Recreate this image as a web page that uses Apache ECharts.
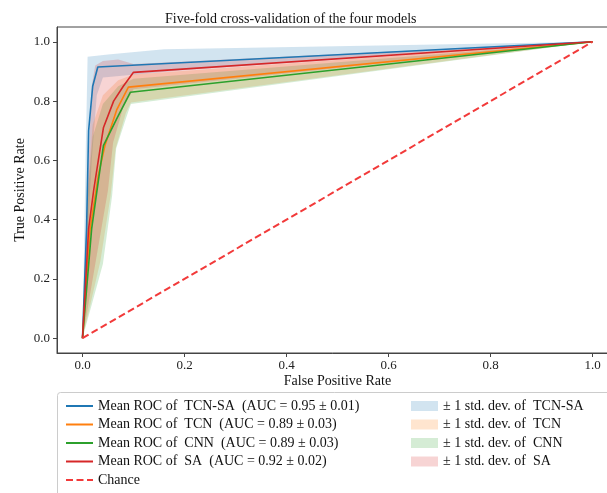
<!DOCTYPE html>
<html>
<head>
<meta charset="utf-8">
<script src="https://cdn.jsdelivr.net/npm/echarts@6/dist/echarts.min.js"></script>
<style>
  html, body { margin: 0; padding: 0; background: #fff; }
  #roc { width: 607px; height: 493px; }
</style>
</head>
<body>
<div id="roc"></div>
<script>
// models and AUC values shown in the legend
const models = ['TCN-SA', 'TCN', 'CNN', 'SA']
const aucMean = ['0.95', '0.89', '0.89', '0.92']
const aucStd = ['0.01', '0.03', '0.03', '0.02']
const tickValues = [0, 0.2, 0.4, 0.6, 0.8, 1.0]

// mean ROC curves, [fpr, tpr]
const tcnsaMean = [[0, 0], [0.008, 0.37], [0.012, 0.70], [0.02, 0.85], [0.03, 0.915], [1, 1]]
const tcnMean = [[0, 0], [0.015, 0.37], [0.031, 0.55], [0.044, 0.65], [0.067, 0.77], [0.09, 0.847], [1, 1]]
const cnnMean = [[0, 0], [0.018, 0.37], [0.031, 0.53], [0.041, 0.65], [0.067, 0.74], [0.094, 0.83], [1, 1]]
const saMean = [[0, 0], [0.012, 0.37], [0.022, 0.50], [0.031, 0.60], [0.041, 0.71], [0.061, 0.80], [0.08, 0.85], [0.1, 0.897], [1, 1]]

// +/- 1 std. dev. bands, upper and lower edges
const tcnsaUpper = [[0, 0], [0.006, 0.6], [0.01, 0.95], [0.05, 0.957], [0.16, 0.975], [1, 1]]
const tcnsaLower = [[0, 0], [0.018, 0.6], [0.028, 0.82], [0.04, 0.88], [0.2, 0.905], [1, 1]]
const tcnUpper = [[0, 0], [0.01, 0.5], [0.02, 0.72], [0.04, 0.82], [0.07, 0.87], [0.1, 0.89], [1, 1]]
const tcnLower = [[0, 0], [0.035, 0.26], [0.055, 0.48], [0.065, 0.64], [0.085, 0.76], [0.095, 0.795], [1, 1]]
const cnnUpper = [[0, 0], [0.01, 0.48], [0.02, 0.68], [0.04, 0.79], [0.07, 0.85], [0.1, 0.875], [1, 1]]
const cnnLower = [[0, 0], [0.04, 0.25], [0.058, 0.48], [0.066, 0.64], [0.085, 0.74], [0.095, 0.79], [1, 1]]
const saUpper = [[0, 0], [0.012, 0.6], [0.018, 0.85], [0.025, 0.92], [0.04, 0.935], [0.07, 0.94], [0.1, 0.925], [1, 1]]
const saLower = [[0, 0], [0.03, 0.3], [0.05, 0.5], [0.06, 0.66], [0.08, 0.78], [0.1, 0.84], [1, 1]]

const chanceLine = [[0, 0], [1, 1]]

const lineColors = ['#1f77b4', '#ff7f0e', '#2ca02c', '#d62728']
const bandColors = ['rgba(31,119,180,0.2)', 'rgba(255,127,14,0.2)', 'rgba(44,160,44,0.2)', 'rgba(214,39,40,0.2)']
const FONT = '"Liberation Serif", "Times New Roman", serif'

const means = [tcnsaMean, tcnMean, cnnMean, saMean]
const uppers = [tcnsaUpper, tcnUpper, cnnUpper, saUpper]
const lowers = [tcnsaLower, tcnLower, cnnLower, saLower]

const lineNames = models.map((m, i) => 'Mean ROC of  ' + m + '  (AUC = ' + aucMean[i] + ' \u00b1 ' + aucStd[i] + ')')
const bandNames = models.map(m => '\u00b1 1 std. dev. of  ' + m)

function bandSeries(i) {
  // polygon: upper edge forward, lower edge backward
  const poly = uppers[i].concat(lowers[i].slice().reverse())
  return {
    name: bandNames[i],
    type: 'custom',
    data: poly,
    encode: { x: 0, y: 1 },
    itemStyle: { color: bandColors[i] },
    clip: true,
    renderItem: (params, api) => {
      if (params.dataIndex !== 0) return null
      return {
        type: 'polygon',
        shape: { points: poly.map(p => api.coord(p)) },
        style: { fill: bandColors[i], stroke: null }
      }
    }
  }
}

function lineSeries(i) {
  return {
    name: lineNames[i],
    type: 'line',
    data: means[i],
    symbol: 'none',
    showSymbol: false,
    lineStyle: { color: lineColors[i], width: 1.6 },
    itemStyle: { color: lineColors[i] },
    z: 3
  }
}

const axisCommon = {
  type: 'value',
  min: -0.05,
  max: 1.05,
  nameLocation: 'middle',
  nameMoveOverlap: false,
  nameTextStyle: { fontFamily: FONT, fontSize: 14, color: '#111' },
  axisLine: { show: true, onZero: false, lineStyle: { color: '#444', width: 1 } },
  axisTick: { show: true, inside: false, length: 4, customValues: tickValues, lineStyle: { color: '#444' } },
  axisLabel: {
    customValues: tickValues,
    fontFamily: FONT,
    fontSize: 13,
    color: '#222',
    formatter: v => v.toFixed(1)
  },
  splitLine: { show: false }
}

const chart = echarts.init(document.getElementById('roc'), null, { renderer: 'canvas' })

const option = {
  animation: false,
  backgroundColor: '#fff',
  title: {
    text: 'Five-fold cross-validation of the four models',
    left: 165,
    top: 12,
    padding: 0,
    textStyle: { fontFamily: FONT, fontSize: 14, fontWeight: 'normal', color: '#111' }
  },
  grid: {
    left: 57,
    top: 27,
    width: 561,
    height: 326,
    containLabel: false,
    outerBoundsMode: 'none',
    show: true,
    borderColor: '#444',
    borderWidth: 1
  },
  xAxis: Object.assign({}, axisCommon, {
    name: 'False Positive Rate',
    nameGap: 21,
    axisLabel: Object.assign({}, axisCommon.axisLabel, { margin: 6 })
  }),
  yAxis: Object.assign({}, axisCommon, {
    name: 'True Positive Rate',
    nameGap: 30,
    axisLabel: Object.assign({}, axisCommon.axisLabel, { margin: 7 })
  }),
  // legend frame, running past the right and bottom edges like the source
  graphic: [{
    type: 'rect',
    left: 57,
    top: 392,
    shape: { width: 600, height: 130, r: 3 },
    style: { fill: '#fff', stroke: '#ccc', lineWidth: 1 },
    z: 0
  }],
  legend: [
    {
      data: lineNames.concat(['Chance']),
      orient: 'vertical',
      left: 65,
      top: 399,
      padding: 0,
      height: 100,
      itemWidth: 27,
      itemHeight: 14,
      itemGap: 4.5,
      selectedMode: false,
      itemStyle: { opacity: 0 },
      textStyle: { fontFamily: FONT, fontSize: 14, color: '#111' }
    },
    {
      data: bandNames,
      orient: 'vertical',
      left: 411,
      top: 399,
      padding: 0,
      icon: 'rect',
      itemWidth: 27,
      itemHeight: 10,
      itemGap: 4.5,
      selectedMode: false,
      textStyle: { fontFamily: FONT, fontSize: 14, color: '#111', lineHeight: 14 }
    }
  ],
  series: [0, 1, 2, 3].map(bandSeries)
    .concat([0, 1, 2, 3].map(lineSeries))
    .concat([{
      name: 'Chance',
      type: 'line',
      data: chanceLine,
      symbol: 'none',
      showSymbol: false,
      lineStyle: { color: '#f23a3a', width: 2, type: [7, 3.5] },
      itemStyle: { color: '#f23a3a' },
      z: 4
    }])
}

chart.setOption(option)
</script>
</body>
</html>
